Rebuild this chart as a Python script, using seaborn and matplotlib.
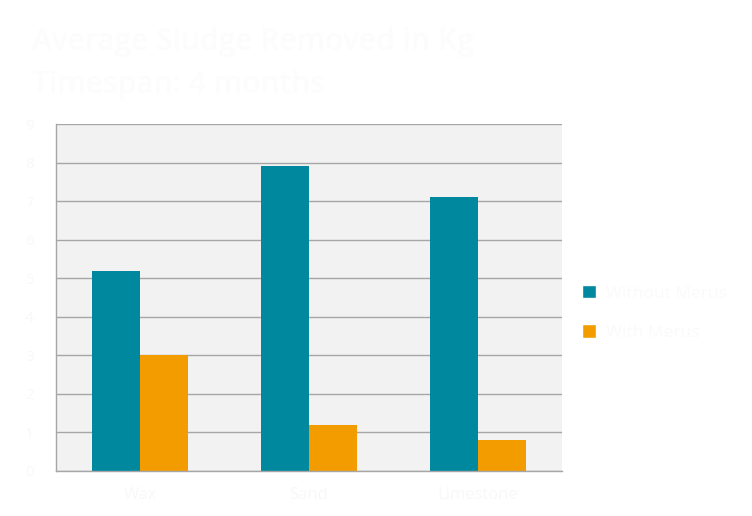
import pandas as pd
import matplotlib
matplotlib.use('Agg')
from matplotlib import pyplot as plt
from matplotlib.patches import Patch
import seaborn as sns

# chart data
categories = ['Wax', 'Sand', 'Limestone']
without_merus = [5.2, 7.9, 7.1]
with_merus = [3.0, 1.2, 0.8]
series_names = ['Without Merus', 'With Merus']
y_ticks = list(range(0, 10))

df = pd.DataFrame({
    'material': categories * 2,
    'kg': without_merus + with_merus,
    'series': [series_names[0]] * 3 + [series_names[1]] * 3,
})

sns.set_style('white')
plt.rcParams['font.family'] = ['Open Sans', 'DejaVu Sans']

txt = '#f8f8f8'
teal = '#00889f'
orange = '#f39c00'

fig = plt.figure(figsize=(7.52, 5.16), dpi=100)
ax = fig.add_axes([56 / 752, 1 - 471 / 516, (562 - 56) / 752, (471 - 124) / 516])

sns.barplot(data=df, x='material', y='kg', hue='series', order=categories,
            hue_order=series_names, palette=[teal, orange], width=0.57,
            saturation=1, ax=ax, legend=False)
for p in ax.patches:
    p.set_linewidth(0)

ax.set_facecolor('#f2f2f2')
ax.set_xlim(-0.5, 2.5)
ax.set_ylim(0, 9)
ax.set_yticks(y_ticks)
ax.set_yticklabels([str(t) for t in y_ticks], color=txt, fontsize=11)
ax.yaxis.grid(True, color='#a6a6a6', linewidth=1)
ax.set_axisbelow(True)

# category boundary ticks on the bottom axis
ax.set_xticks([-0.5, 0.5, 1.5, 2.5])
ax.set_xticklabels([])
for i, c in enumerate(categories):
    ax.text(i, -0.62, c, ha='center', va='center', color=txt, fontsize=12)

ax.tick_params(axis='both', direction='out', length=6, width=1, color='#a6a6a6', pad=10)
ax.tick_params(axis='x', length=5)
for s in ['top', 'right']:
    ax.spines[s].set_visible(False)
for s in ['left', 'bottom']:
    ax.spines[s].set_color('#a6a6a6')
    ax.spines[s].set_linewidth(1)
ax.set_xlabel('')
ax.set_ylabel('')

handles = [Patch(facecolor=teal), Patch(facecolor=orange)]
fig.legend(handles, series_names, loc='center left', bbox_to_anchor=(566 / 752, 1 - 313 / 516),
           frameon=False, handlelength=0.8, handleheight=0.8, labelspacing=1.3,
           handletextpad=0.6, fontsize=12.5, labelcolor='#fafafa')

fig.text(32 / 752, 1 - 42 / 516, 'Average Sludge Removed in Kg', fontsize=21.5,
         fontweight='semibold', color='#fcfcfc', va='center')
fig.text(32 / 752, 1 - 85 / 516, 'Timespan: 4 months', fontsize=21.5,
         fontweight='semibold', color='#fcfcfc', va='center')

fig.savefig('out.png', dpi=100, facecolor='white')
